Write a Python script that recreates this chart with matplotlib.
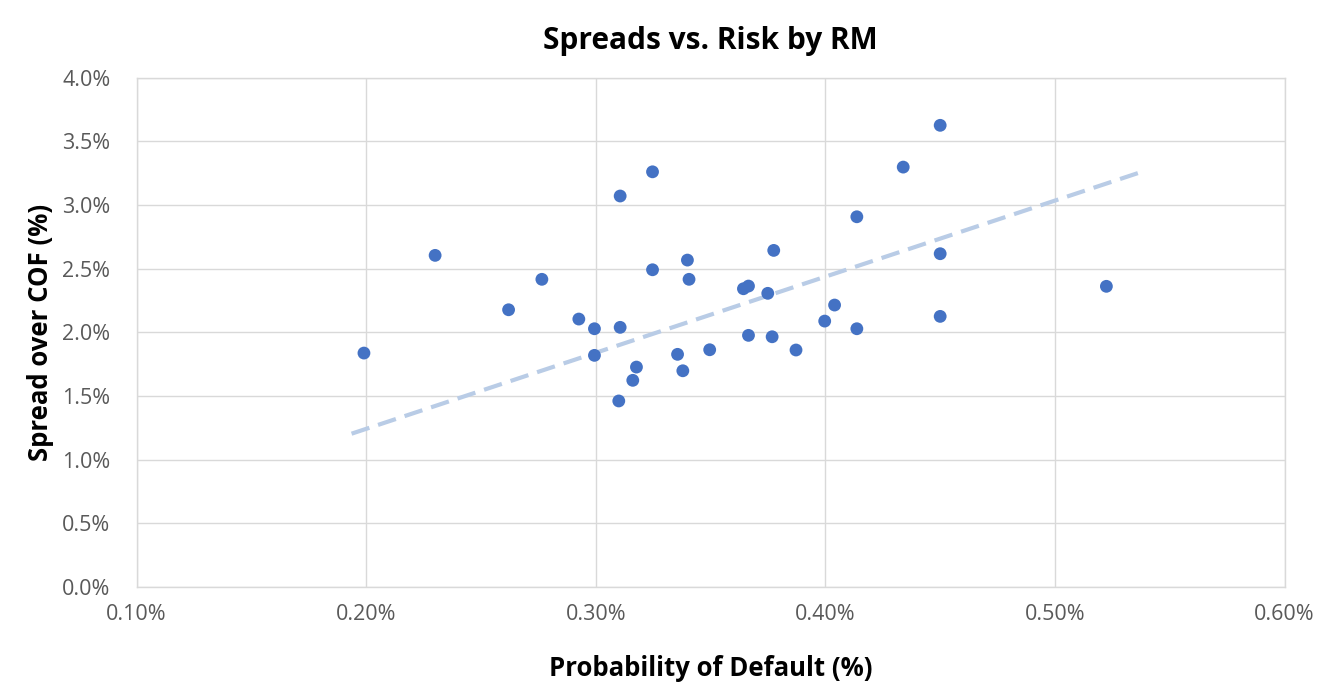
import matplotlib.pyplot as plt
import numpy as np
from matplotlib.ticker import FuncFormatter, MultipleLocator

# Probability of default (%) and spread over cost of funds (%) per relationship manager
pd_pct = [0.199, 0.230, 0.262, 0.2765, 0.2926, 0.2994, 0.2994, 0.310, 0.3106, 0.3106,
          0.3161, 0.3177, 0.3247, 0.3247, 0.3356, 0.3379, 0.3399, 0.3406, 0.3496, 0.3643,
          0.3665, 0.3665, 0.3749, 0.3768, 0.3775, 0.3872, 0.3997, 0.404, 0.4137, 0.4137,
          0.4339, 0.450, 0.450, 0.450, 0.5224]
spread_pct = [1.838, 2.605, 2.178, 2.417, 2.105, 2.029, 1.820, 1.462, 3.071, 2.040,
              1.624, 1.728, 3.261, 2.492, 1.828, 1.699, 2.568, 2.417, 1.864, 2.343,
              2.364, 1.977, 2.307, 1.966, 2.644, 1.862, 2.089, 2.215, 2.908, 2.029,
              3.298, 3.626, 2.618, 2.126, 2.362]

# linear trendline end points
trend_pd = [0.1936, 0.538]
trend_spread = [1.205, 3.262]

plt.rcParams['font.family'] = ['Open Sans', 'DejaVu Sans']

fig = plt.figure(figsize=(13.27, 6.85), dpi=100)
ax = fig.add_axes([0.103, 0.1428, 0.865, 0.7438])

ax.plot(trend_pd, trend_spread, color='#b9cce6', lw=3.0, ls=(0, (4.5, 2.2)),
        zorder=2, solid_capstyle='butt')
ax.scatter(pd_pct, spread_pct, s=85, color='#4472c4', edgecolors='none', zorder=3)

ax.set_xlim(0.1, 0.6)
ax.set_ylim(0, 4.0)
ax.xaxis.set_major_locator(MultipleLocator(0.1))
ax.yaxis.set_major_locator(MultipleLocator(0.5))
ax.xaxis.set_major_formatter(FuncFormatter(lambda v, p: f"{v:.2f}%"))
ax.yaxis.set_major_formatter(FuncFormatter(lambda v, p: f"{v:.1f}%"))

ax.grid(True, color='#d9d9d9', lw=1.0)
ax.set_axisbelow(True)
for side in ax.spines.values():
    side.set_color('#d9d9d9')
    side.set_linewidth(1.0)
ax.tick_params(length=0, labelsize=15.5, labelcolor='#595959')
ax.tick_params(axis='y', pad=19)
ax.tick_params(axis='x', pad=12)

ax.set_title('Spreads vs. Risk by RM', fontsize=21.5, fontweight='bold', pad=21)
ax.set_xlabel('Probability of Default (%)', fontsize=18.5, fontweight='bold', labelpad=22)
ax.set_ylabel('Spread over COF (%)', fontsize=18.5, fontweight='bold', labelpad=6)

fig.savefig('out.png', dpi=100, facecolor='white')
